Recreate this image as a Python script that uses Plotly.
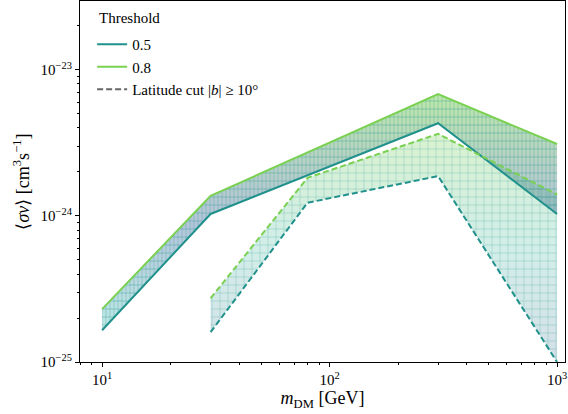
import plotly.graph_objects as go

# ---- data ----
mass_full = [10, 30, 300, 1000]
sv_05 = [1.65e-25, 1.03e-24, 4.3e-24, 1.03e-24]
sv_08 = [2.3e-25, 1.37e-24, 6.8e-24, 3.1e-24]

mass_cut = [30, 80, 300, 1000]
sv_05_cut = [1.6e-25, 1.23e-24, 1.87e-24, 1.0e-25]
sv_08_cut = [2.73e-25, 1.82e-24, 3.64e-24, 1.40e-24]

x_tickvals = [10, 100, 1000]
x_ticktext = ["10<sup>1</sup>", "10<sup>2</sup>", "10<sup>3</sup>"]
y_tickvals = [1e-25, 1e-24, 1e-23]
y_ticktext = ["10<sup>−25</sup>", "10<sup>−24</sup>", "10<sup>−23</sup>"]

TEAL = "#21918c"
GREEN = "#7ad151"
FONT = "Liberation Serif"

fig = go.Figure()

def band(x, lo, hi, scale, patterns, fg, fgop):
    px = list(x) + list(x)[::-1]
    py = list(lo) + list(hi)[::-1]
    fig.add_trace(go.Scatter(x=px, y=py, mode="lines", line=dict(width=0),
                             fill="toself", fillgradient=dict(type="vertical", colorscale=scale),
                             showlegend=False, hoverinfo="skip"))
    for shp, sz, sol in patterns:
        fig.add_trace(go.Scatter(x=px, y=py, mode="lines", line=dict(width=0),
                                 fill="toself", fillcolor="rgba(0,0,0,0)",
                                 fillpattern=dict(shape=shp, size=sz, solidity=sol,
                                                  fgcolor=fg, fgopacity=fgop,
                                                  bgcolor="rgba(0,0,0,0)", fillmode="overlay"),
                                 showlegend=False, hoverinfo="skip"))

band(mass_cut, sv_05_cut, sv_08_cut,
     [[0, "rgba(59,110,150,0.22)"], [0.5, "rgba(33,170,140,0.2)"], [1, "rgba(122,209,81,0.28)"]],
     [("+", 8, 0.1)], TEAL, 0.55)
band(mass_full, sv_05, sv_08,
     [[0, "rgba(33,175,165,0.3)"], [0.45, "rgba(59,100,160,0.38)"], [1, "rgba(122,209,81,0.5)"]],
     [("|", 4, 0.15), ("-", 8, 0.1)], TEAL, 0.45)

fig.add_trace(go.Scatter(x=mass_full, y=sv_05, mode="lines", line=dict(color=TEAL, width=2),
                         name="0.5", legendrank=1))
fig.add_trace(go.Scatter(x=mass_full, y=sv_08, mode="lines", line=dict(color=GREEN, width=2),
                         name="0.8", legendrank=2))
fig.add_trace(go.Scatter(x=mass_cut, y=sv_05_cut, mode="lines",
                         line=dict(color=TEAL, width=2, dash="6px,3px"), showlegend=False))
fig.add_trace(go.Scatter(x=mass_cut, y=sv_08_cut, mode="lines",
                         line=dict(color=GREEN, width=2, dash="6px,3px"), showlegend=False))
fig.add_trace(go.Scatter(x=[None], y=[None], mode="lines",
                         line=dict(color="#666666", width=2, dash="6px,3px"),
                         name="Latitude cut |<i>b</i>| ≥ 10°", legendrank=3))

x_minor = [v * m for v in [10, 100] for m in range(2, 10)] + [8, 9]
y_minor = [v * m for v in [1e-25, 1e-24, 1e-23] for m in range(2, 10)]

axis_common = dict(type="log", showgrid=False, zeroline=False, showline=True, linecolor="black",
                   linewidth=1, mirror=True, ticks="outside", ticklen=4, tickwidth=1,
                   tickcolor="black", automargin=False,
                   tickfont=dict(family=FONT, size=15, color="black"))

fig.update_xaxes(**axis_common, range=[0.903, 3.035], tickvals=x_tickvals, ticktext=x_ticktext,
                 minor=dict(tickvals=x_minor, ticks="outside", ticklen=2, tickcolor="black"),
                 title=dict(text="<i>m</i><sub>DM</sub> [GeV]", font=dict(family=FONT, size=18, color="black"),
                            standoff=4))
fig.update_yaxes(**axis_common, range=[-25, -22.53], tickvals=y_tickvals, ticktext=y_ticktext,
                 minor=dict(tickvals=y_minor, ticks="outside", ticklen=2, tickcolor="black"),
                 title=dict(text="⟨<i>σv</i>⟩ [cm<sup>3</sup>s<sup>−1</sup>]",
                            font=dict(family=FONT, size=18, color="black"), standoff=6))

fig.add_annotation(text="Threshold", xref="paper", yref="paper", x=0.035, y=0.953,
                   xanchor="left", yanchor="middle", showarrow=False,
                   font=dict(family=FONT, size=15, color="black"))

fig.update_layout(
    width=568, height=414,
    margin=dict(l=80, r=3, t=1, b=52),
    plot_bgcolor="white", paper_bgcolor="white",
    legend=dict(x=0.025, y=0.925, xanchor="left", yanchor="top", bgcolor="rgba(255,255,255,0)",
                font=dict(family=FONT, size=15, color="black"), tracegroupgap=0, itemwidth=30),
)

fig.write_html("out.html", config={"displayModeBar": False},
               post_script="document.body.style.margin='0px';")
